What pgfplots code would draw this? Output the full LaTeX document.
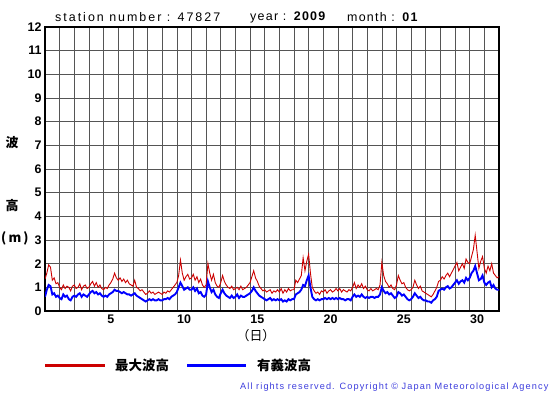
\documentclass[border=0pt]{standalone}
\usepackage{fontspec}
\setmainfont{Liberation Sans}
\newfontfamily\jp{Noto Sans CJK JP}
\usepackage{pgfplots}
\pgfplotsset{compat=1.18}
\usepackage{pgfplotstable}
\definecolor{maxred}{HTML}{CC0000}
\definecolor{sigblue}{HTML}{0000FF}
\definecolor{copyblue}{HTML}{3C3CDC}
\definecolor{gridgray}{HTML}{555555}

\pgfplotstableread{
x maxh sigh
0.5 1.35 0.6
0.625 1.6 0.9
0.75 1.95 1.1
0.875 1.85 1.05
1.0 1.3 0.7
1.125 1.4 0.75
1.25 1.15 0.6
1.375 1.2 0.65
1.5 1.0 0.55
1.625 0.9 0.5
1.75 1.1 0.7
1.875 0.95 0.6
2.0 1.05 0.65
2.125 1.0 0.5
2.25 0.85 0.45
2.375 1.05 0.6
2.5 1.1 0.65
2.625 0.95 0.6
2.75 1.0 0.7
2.875 1.15 0.75
3.0 0.9 0.6
3.125 1.05 0.7
3.25 1.1 0.65
3.375 0.95 0.6
3.5 1.0 0.7
3.625 1.15 0.8
3.75 1.25 0.85
3.875 1.05 0.75
4.0 1.2 0.8
4.125 1.0 0.7
4.25 1.1 0.75
4.375 0.95 0.65
4.5 0.9 0.6
4.625 1.0 0.65
4.75 0.95 0.6
4.875 1.1 0.7
5.0 1.2 0.75
5.125 1.35 0.8
5.25 1.6 0.9
5.375 1.4 0.85
5.5 1.3 0.85
5.625 1.4 0.8
5.75 1.25 0.75
5.875 1.35 0.8
6.0 1.2 0.75
6.125 1.3 0.7
6.25 1.15 0.7
6.375 1.1 0.65
6.5 1.05 0.7
6.625 1.3 0.75
6.75 1.0 0.65
6.875 0.95 0.6
7.0 0.85 0.55
7.125 0.9 0.5
7.25 0.8 0.45
7.375 0.7 0.4
7.5 0.75 0.45
7.625 0.85 0.5
7.75 0.75 0.45
7.875 0.8 0.5
8.0 0.7 0.45
8.125 0.75 0.45
8.25 0.8 0.5
8.375 0.75 0.45
8.5 0.7 0.45
8.625 0.8 0.5
8.75 0.75 0.5
8.875 0.85 0.55
9.0 0.8 0.5
9.125 0.9 0.6
9.25 1.0 0.65
9.375 1.1 0.7
9.5 1.2 0.8
9.625 1.5 1.0
9.75 2.15 1.2
9.875 1.6 1.05
10.0 1.3 0.9
10.125 1.45 0.95
10.25 1.55 1.0
10.375 1.35 0.9
10.5 1.4 0.9
10.625 1.55 1.0
10.75 1.3 0.85
10.875 1.45 0.95
11.0 1.2 0.75
11.125 1.35 0.8
11.25 1.1 0.65
11.375 1.0 0.6
11.5 1.1 0.7
11.625 2.0 1.25
11.75 1.6 1.0
11.875 1.3 0.8
12.0 1.55 0.9
12.125 1.2 0.7
12.25 1.05 0.6
12.375 1.0 0.55
12.5 1.2 0.75
12.625 1.5 0.9
12.75 1.25 0.75
12.875 1.1 0.65
13.0 1.0 0.6
13.125 0.95 0.55
13.25 1.05 0.65
13.375 0.9 0.55
13.5 0.95 0.6
13.625 1.0 0.7
13.75 0.9 0.55
13.875 1.05 0.65
14.0 0.9 0.6
14.125 0.95 0.6
14.25 1.0 0.65
14.375 1.1 0.7
14.5 1.2 0.75
14.625 1.45 0.85
14.75 1.7 1.0
14.875 1.4 0.85
15.0 1.25 0.75
15.125 1.05 0.65
15.25 0.95 0.6
15.375 0.85 0.55
15.5 0.9 0.5
15.625 0.8 0.45
15.75 0.85 0.5
15.875 0.9 0.55
16.0 0.75 0.45
16.125 0.85 0.5
16.25 0.8 0.45
16.375 0.9 0.5
16.5 0.8 0.45
16.625 0.95 0.5
16.75 0.75 0.4
16.875 0.9 0.45
17.0 0.8 0.4
17.125 0.95 0.5
17.25 0.85 0.45
17.375 0.9 0.5
17.5 0.9 0.5
17.625 1.3 0.7
17.75 1.2 0.75
17.875 1.35 0.8
18.0 1.5 0.9
18.125 2.25 1.1
18.25 1.7 1.05
18.375 2.1 1.3
18.5 2.4 1.5
18.625 1.6 1.0
18.75 1.0 0.6
18.875 0.85 0.5
19.0 0.75 0.45
19.125 0.8 0.5
19.25 0.7 0.45
19.375 0.85 0.5
19.5 0.8 0.5
19.625 0.9 0.55
19.75 0.75 0.5
19.875 0.85 0.55
20.0 0.9 0.5
20.125 0.8 0.55
20.25 0.85 0.5
20.375 0.95 0.55
20.5 0.85 0.5
20.625 0.95 0.55
20.75 0.8 0.5
20.875 0.9 0.5
21.0 0.85 0.45
21.125 0.8 0.5
21.25 0.9 0.5
21.375 0.85 0.45
21.5 1.0 0.6
21.625 1.2 0.7
21.75 0.95 0.6
21.875 1.1 0.65
22.0 1.0 0.6
22.125 1.15 0.7
22.25 0.95 0.6
22.375 1.05 0.55
22.5 0.9 0.6
22.625 0.85 0.55
22.75 0.95 0.6
22.875 0.85 0.6
23.0 0.9 0.55
23.125 0.95 0.6
23.25 0.9 0.6
23.375 1.1 0.7
23.5 2.05 1.0
23.625 1.5 0.85
23.75 1.25 0.75
23.875 1.15 0.8
24.0 1.0 0.7
24.125 1.1 0.75
24.25 0.95 0.65
24.375 0.9 0.55
24.5 1.1 0.6
24.625 1.5 0.8
24.75 1.3 0.75
24.875 1.15 0.65
25.0 1.2 0.7
25.125 1.0 0.6
25.25 0.9 0.5
25.375 0.85 0.45
25.5 0.9 0.5
25.625 1.0 0.6
25.75 1.3 0.75
25.875 1.1 0.65
26.0 0.95 0.55
26.125 1.05 0.6
26.25 0.85 0.5
26.375 0.8 0.45
26.5 0.75 0.45
26.625 0.7 0.4
26.75 0.65 0.4
26.875 0.6 0.35
27.0 0.7 0.45
27.125 0.85 0.5
27.25 1.0 0.6
27.375 1.25 0.85
27.5 1.3 0.9
27.625 1.45 0.95
27.75 1.35 0.9
27.875 1.5 1.0
28.0 1.6 1.05
28.125 1.45 0.95
28.25 1.6 1.0
28.375 1.75 1.1
28.5 1.9 1.2
28.625 2.05 1.3
28.75 1.7 1.15
28.875 1.85 1.25
29.0 2.0 1.3
29.125 1.8 1.2
29.25 2.2 1.4
29.375 2.05 1.3
29.5 2.0 1.4
29.625 2.3 1.6
29.75 2.6 1.7
29.875 3.2 1.9
30.0 2.5 1.6
30.125 1.8 1.3
30.25 2.1 1.35
30.375 2.3 1.5
30.5 1.8 1.2
30.625 1.6 1.1
30.75 1.9 1.2
30.875 1.7 1.25
31.0 2.0 1.0
31.125 1.6 1.1
31.25 1.5 0.95
31.375 1.4 0.9
31.5 1.45 0.9
}\wavedata

\begin{document}
\begin{tikzpicture}[x=1bp,y=1bp]
\path[use as bounding box] (0,0) rectangle (555,395);
\begin{axis}[
  at={(45bp,84bp)}, anchor=south west,
  scale only axis, width=454bp, height=284bp,
  xmin=0.5, xmax=31.5, ymin=0, ymax=12,
  xtick={5,10,15,20,25,30},
  ytick={0,1,...,12},
  minor xtick={0.5,1.5,...,31.5},
  xmajorgrids=false, xminorgrids=true, ymajorgrids=true,
  grid style={gridgray, line width=0.6bp},
  minor grid style={gridgray, line width=0.6bp},
  major tick length=0pt, minor tick length=0pt,
  axis line style={line width=1.2bp, black},
  ticklabel style={font=\fontsize{12.5}{12.5}\selectfont\bfseries},
  /pgf/number format/assume math mode=true,
  clip=true,
]
\addplot[maxred, line width=0.9bp] table[x=x, y=maxh] {\wavedata};
\addplot[sigblue, line width=1.9bp] table[x=x, y=sigh] {\wavedata};
\end{axis}
% titles
\node[anchor=west, inner sep=0pt] at (55,378) {\fontsize{12.5}{12.5}\selectfont\addfontfeature{LetterSpace=16}station number : 47827};
\node[anchor=west, inner sep=0pt] at (250,378) {\fontsize{12.5}{12.5}\selectfont\addfontfeature{LetterSpace=10}year : \textbf{2009}};
\node[anchor=west, inner sep=0pt] at (347,378) {\fontsize{12.5}{12.5}\selectfont\addfontfeature{LetterSpace=10}month : \textbf{01}};
% y label
\node at (12,252) {\jp\bfseries\fontsize{13}{13}\selectfont 波};
\node at (12,189) {\jp\bfseries\fontsize{13}{13}\selectfont 高};
\node[anchor=west, inner sep=0pt] at (1,157) {\jp\bfseries\fontsize{13}{13}\selectfont (\,m\,)};
% x label
\node at (256,59) {\jp\fontsize{13}{13}\selectfont （日）};
% legend
\draw[maxred, line width=3bp] (45,30) -- (105,30);
\node[anchor=west, inner sep=0pt] at (115,30) {\jp\bfseries\fontsize{13.5}{13.5}\selectfont 最大波高};
\draw[sigblue, line width=3bp] (187,30) -- (246,30);
\node[anchor=west, inner sep=0pt] at (257,30) {\jp\bfseries\fontsize{13.5}{13.5}\selectfont 有義波高};
% copyright
\node[anchor=west, inner sep=0pt, text=copyblue] at (240,8) {\fontsize{9.2}{9.2}\selectfont\addfontfeature{LetterSpace=12}All rights reserved. Copyright \textcopyright{} Japan Meteorological Agency};
\end{tikzpicture}
\end{document}
